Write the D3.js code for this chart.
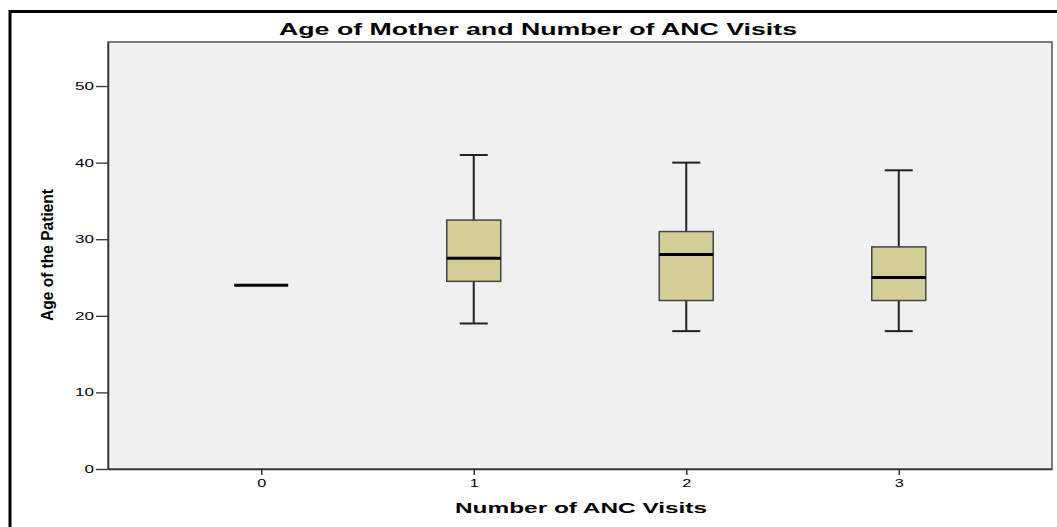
<!DOCTYPE html>
<html>
<head>
<meta charset="utf-8">
<script src="https://cdn.jsdelivr.net/npm/d3@7/dist/d3.min.js"></script>
<style>
  html, body { margin: 0; padding: 0; background: #ffffff; }
  svg { display: block; }
  text { font-family: Arial, "Liberation Sans", sans-serif; fill: #000; }
</style>
</head>
<body>
<svg id="chart" width="1057" height="527"></svg>
<script>
// Number of ANC visits (categories) and the age summary for each group
const visits   = ["0", "1", "2", "3"];
const whiskLo  = [24, 19, 18, 18];
const q1       = [24, 24.5, 22, 22];
const median   = [24, 27.5, 28, 25];
const q3       = [24, 32.5, 31, 29];
const whiskHi  = [24, 41, 40, 39];
const yTicks   = [0, 10, 20, 30, 40, 50];

const svg = d3.select("#chart");

const plot = { left: 108, right: 1052, top: 42, bottom: 469 };

const x = d3.scalePoint()
  .domain(visits)
  .range([plot.left, plot.right])
  .padding(0.721);

const y = d3.scaleLinear()
  .domain([0, 55.75])
  .range([plot.bottom, plot.top]);

// outer frame
svg.append("rect")
  .attr("x", 10).attr("y", 11.5)
  .attr("width", 1200).attr("height", 700)
  .attr("fill", "none")
  .attr("stroke", "#000")
  .attr("stroke-width", 3);

// plot background
svg.append("rect")
  .attr("x", plot.left).attr("y", plot.top)
  .attr("width", plot.right - plot.left)
  .attr("height", plot.bottom - plot.top)
  .attr("fill", "#f0f0f0")
  .attr("stroke", "#555")
  .attr("stroke-width", 1.5);

// axes
const yAxis = svg.append("g")
  .attr("transform", `translate(${plot.left},0)`)
  .call(d3.axisLeft(y).tickValues(yTicks).tickSizeInner(12).tickSizeOuter(0).tickPadding(2).tickFormat(d3.format("d")));
yAxis.select(".domain").attr("stroke", "#333").attr("stroke-width", 1.5);
yAxis.selectAll(".tick line").attr("stroke", "#333").attr("stroke-width", 1.3);
yAxis.selectAll(".tick text")
  .attr("font-size", 11)
  .attr("fill", "#222")
  .attr("font-family", "Arial, 'Liberation Sans', sans-serif")
  .attr("textLength", d => String(d).length * 9.5)
  .attr("lengthAdjust", "spacingAndGlyphs");

const xAxis = svg.append("g")
  .attr("transform", `translate(0,${plot.bottom})`)
  .call(d3.axisBottom(x).tickSizeInner(6).tickSizeOuter(0).tickPadding(4));
xAxis.select(".domain").attr("stroke", "#333").attr("stroke-width", 1.5);
xAxis.selectAll(".tick line").attr("stroke", "#333").attr("stroke-width", 1.5);
xAxis.selectAll(".tick text")
  .attr("font-size", 11)
  .attr("fill", "#222")
  .attr("font-family", "Arial, 'Liberation Sans', sans-serif")
  .attr("textLength", d => String(d).length * 9)
  .attr("lengthAdjust", "spacingAndGlyphs");

// box plots
const boxW = 54, capW = 28;
const groups = svg.append("g").selectAll("g")
  .data(visits.map((v, i) => ({
    v, lo: whiskLo[i], q1: q1[i], med: median[i], q3: q3[i], hi: whiskHi[i]
  })))
  .join("g");

groups.filter(d => d.hi > d.lo).each(function (d) {
  const g = d3.select(this);
  const cx = x(d.v);
  // whiskers
  g.append("line")
    .attr("x1", cx).attr("x2", cx)
    .attr("y1", y(d.hi)).attr("y2", y(d.q3))
    .attr("stroke", "#222").attr("stroke-width", 2);
  g.append("line")
    .attr("x1", cx).attr("x2", cx)
    .attr("y1", y(d.q1)).attr("y2", y(d.lo))
    .attr("stroke", "#222").attr("stroke-width", 2);
  // caps
  [d.hi, d.lo].forEach(val => {
    g.append("line")
      .attr("x1", cx - capW / 2).attr("x2", cx + capW / 2)
      .attr("y1", y(val)).attr("y2", y(val))
      .attr("stroke", "#222").attr("stroke-width", 2);
  });
  // box
  g.append("rect")
    .attr("x", cx - boxW / 2)
    .attr("y", y(d.q3))
    .attr("width", boxW)
    .attr("height", y(d.q1) - y(d.q3))
    .attr("fill", "#d3ce97")
    .attr("stroke", "#444")
    .attr("stroke-width", 1.5);
});

// medians
groups.append("line")
  .attr("x1", d => x(d.v) - boxW / 2)
  .attr("x2", d => x(d.v) + boxW / 2)
  .attr("y1", d => y(d.med))
  .attr("y2", d => y(d.med))
  .attr("stroke", "#000")
  .attr("stroke-width", 3);

// title
svg.append("text")
  .attr("x", 279).attr("y", 35)
  .attr("font-size", 17)
  .attr("font-weight", "bold")
  .attr("textLength", 518)
  .attr("lengthAdjust", "spacingAndGlyphs")
  .text("Age of Mother and Number of ANC Visits");

// x axis title
svg.append("text")
  .attr("x", 455).attr("y", 513)
  .attr("font-size", 15)
  .attr("font-weight", "bold")
  .attr("textLength", 252)
  .attr("lengthAdjust", "spacingAndGlyphs")
  .text("Number of ANC Visits");

// y axis title
svg.append("text")
  .attr("transform", "translate(53,255) rotate(-90)")
  .attr("text-anchor", "middle")
  .attr("font-size", 17)
  .attr("font-weight", "bold")
  .attr("textLength", 132)
  .attr("lengthAdjust", "spacingAndGlyphs")
  .text("Age of the Patient");
</script>
</body>
</html>
